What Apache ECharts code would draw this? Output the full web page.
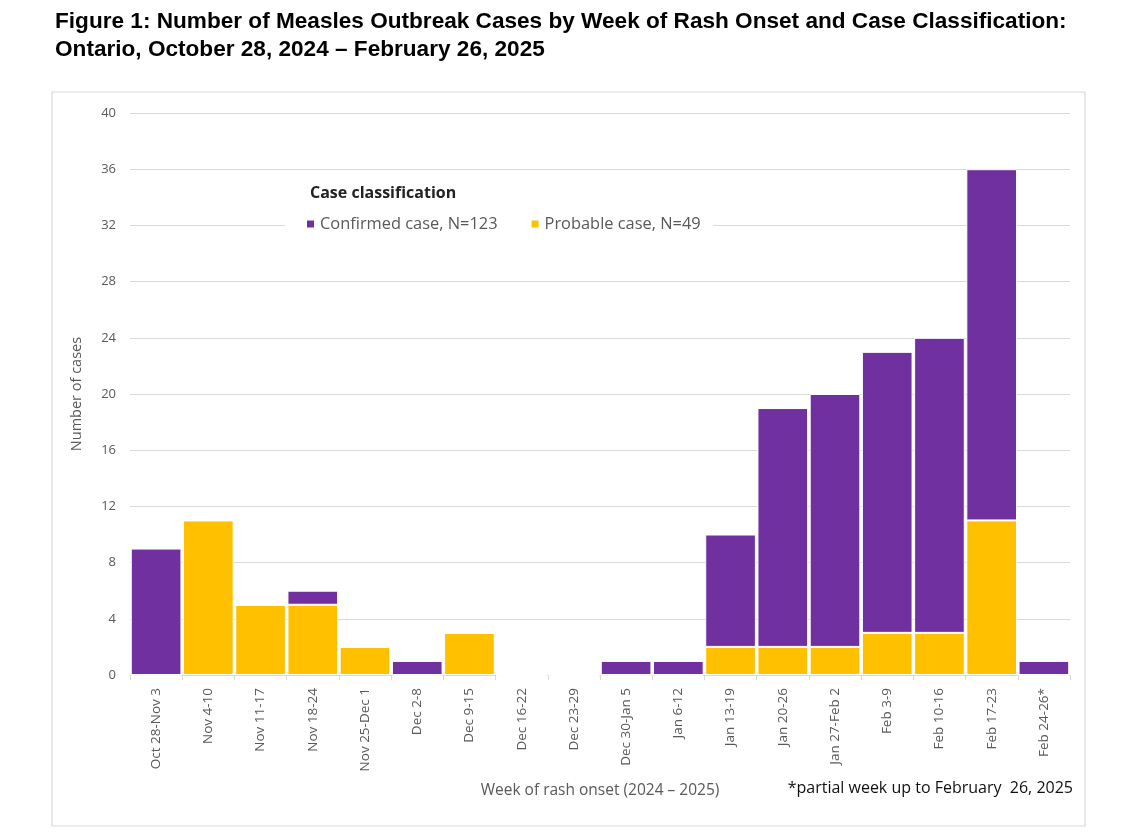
<!DOCTYPE html>
<html><head><meta charset="utf-8">
<script src="https://cdn.jsdelivr.net/npm/echarts@6/dist/echarts.min.js"></script>
<style>html,body{margin:0;padding:0;background:#fff}#c{width:1138px;height:838px}</style>
</head><body><div id="c"></div>
<script>
const categories = ["Oct 28-Nov 3","Nov 4-10","Nov 11-17","Nov 18-24","Nov 25-Dec 1","Dec 2-8","Dec 9-15","Dec 16-22","Dec 23-29","Dec 30-Jan 5","Jan 6-12","Jan 13-19","Jan 20-26","Jan 27-Feb 2","Feb 3-9","Feb 10-16","Feb 17-23","Feb 24-26*"];
const probable = [0,11,5,5,2,0,3,0,0,0,0,2,2,2,3,3,11,0];
const confirmed = [9,0,0,1,0,1,0,0,0,1,1,8,17,18,20,21,25,1];
const yTicks = [0,4,8,12,16,20,24,28,32,36,40];

const chart = echarts.init(document.getElementById('c'));
chart.setOption({
  animation:false,
  textStyle:{fontFamily:'Open Sans'},
  title:[
    {text:'Figure 1: Number of Measles Outbreak Cases by Week of Rash Onset and Case Classification:\nOntario, October 28, 2024 \u2013 February 26, 2025',
     left:50, top:3, textStyle:{fontFamily:'Liberation Sans', fontWeight:'bold', fontSize:22.6, lineHeight:28, color:'#000'}},
    {text:'Case classification', left:305, top:180, textStyle:{fontFamily:'Open Sans', fontWeight:'bold', fontSize:16, color:'#222'}},
    {text:'*partial week up to February  26, 2025', right:60, top:775, textStyle:{fontFamily:'Open Sans', fontWeight:'normal', fontSize:16, color:'#111'}}
  ],
  graphic:[{type:'rect', shape:{x:52,y:92,width:1033,height:734}, style:{fill:'none', stroke:'#d9d9d9', lineWidth:1.2}}],
  legend:{data:['Confirmed case, N=123','Probable case, N=49'], left:285, top:213, itemWidth:9, itemHeight:9, icon:'rect', itemGap:32,
    backgroundColor:'#fff', padding:[3,13,3,20],
    textStyle:{fontFamily:'Open Sans', fontSize:16.4, color:'#595959'}},
  grid:{left:130, right:68, top:113, bottom:163},
  xAxis:{type:'category', data:categories,
    name:'Week of rash onset (2024 \u2013 2025)', nameLocation:'middle', nameGap:108,
    nameTextStyle:{fontFamily:'Open Sans', fontSize:15.5, color:'#595959'},
    axisLine:{lineStyle:{color:'#d9d9d9'}}, axisTick:{show:true, alignWithLabel:false, length:5, lineStyle:{color:'#d9d9d9'}},
    axisLabel:{rotate:90, interval:0, fontFamily:'Open Sans', fontSize:13.5, color:'#595959', margin:13}},
  yAxis:{type:'value', min:0, max:40, interval:4,
    name:'Number of cases', nameLocation:'middle', nameGap:46,
    nameTextStyle:{fontFamily:'Open Sans', fontSize:14.5, color:'#595959'},
    axisLine:{show:false}, axisTick:{show:false},
    axisLabel:{fontFamily:'Open Sans', fontSize:13, color:'#595959', margin:14}},
  series:[
    {name:'Probable case, N=49', type:'bar', stack:'t', data:probable, barCategoryGap:'3%',
     itemStyle:{color:'#FFC000', borderColor:'#fff', borderWidth:1}},
    {name:'Confirmed case, N=123', type:'bar', stack:'t', data:confirmed, barCategoryGap:'3%',
     itemStyle:{color:'#7030A0', borderColor:'#fff', borderWidth:1}}
  ]
});
chart.setOption({yAxis:{splitLine:{lineStyle:{color:'#d9d9d9', width:1}}}});
</script></body></html>
